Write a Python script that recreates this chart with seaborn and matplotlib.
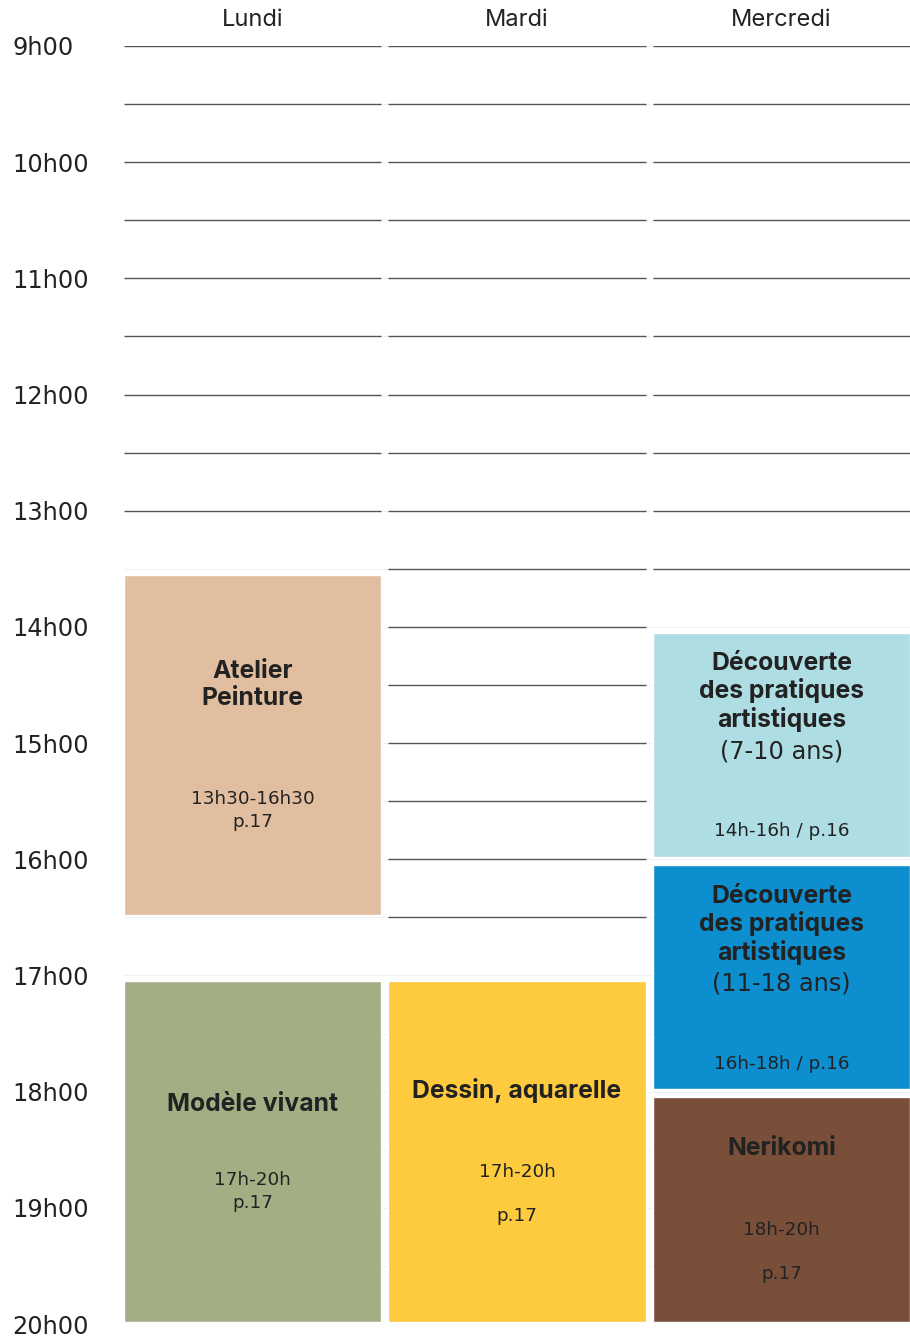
import matplotlib
matplotlib.use("Agg")
import matplotlib.pyplot as plt
import seaborn as sns
import numpy as np

days = ["Lundi", "Mardi", "Mercredi"]
hour_ticks = [9, 10, 11, 12, 13, 14, 15, 16, 17, 18, 19, 20]
hour_labels = ["9h00", "10h00", "11h00", "12h00", "13h00", "14h00",
               "15h00", "16h00", "17h00", "18h00", "19h00", "20h00"]

event_day = [0, 0, 1, 2, 2, 2]
event_start = [13.5, 17, 17, 14, 16, 18]
event_end = [16.5, 20, 20, 16, 18, 20]
event_title = ["Atelier\nPeinture", "Modèle vivant", "Dessin, aquarelle",
               "Découverte\ndes pratiques\nartistiques",
               "Découverte\ndes pratiques\nartistiques", "Nerikomi"]
event_sub = ["", "", "", "(7-10 ans)", "(11-18 ans)", ""]
event_detail = ["13h30-16h30\np.17", "17h-20h\np.17", "17h-20h\n\np.17",
                "14h-16h / p.16", "16h-18h / p.16", "18h-20h\n\np.17"]
event_color = ["#E2BEA0", "#A2AF84", "#FECB3E", "#AEDDE3", "#0C8ECF", "#7A4F39"]

# text placement inside each box (hours after the start)
title_off = [1.00, 1.11, 0.99, 0.56, 0.565, 0.49]
sub_off = [0, 0, 0, 1.07, 1.07, 0]
detail_off = [2.08, 1.86, 1.88, 1.76, 1.76, 1.38]

sns.set_theme(style="white")
plt.rcParams["font.family"] = ["Inter", "DejaVu Sans"]
digits_font = ["DejaVu Sans"]
ink = "#222222"

fig = plt.figure(figsize=(9.1, 13.37), dpi=100)
ax = fig.add_axes([124 / 910, 13 / 1337, 786 / 910, 1278 / 1337])

half = 0.486
ax.set_xlim(-half, 2 + half)
ax.set_ylim(20, 9)

# faint half-hour grid behind everything
for t in np.arange(9, 20.5, 0.5):
    ax.axhline(t, color="#f2f2f2", lw=0.8, zorder=0)

# slot lines only where the column is free (and not right after a box)
for d in range(len(days)):
    for t in np.arange(9, 20, 0.5):
        busy = any(event_day[i] == d and event_start[i] <= t <= event_end[i]
                   for i in range(len(event_day)))
        if not busy:
            ax.hlines(t, d - half, d + half, color="#555555", lw=1.0, zorder=1)

starts = np.array(event_start)
ends = np.array(event_end)
ax.bar(event_day, ends - starts - 0.07, bottom=starts + 0.05, width=2 * half,
       color=event_color, zorder=2)

for i in range(len(event_day)):
    x = event_day[i]
    s = event_start[i]
    ax.text(x, s + title_off[i], event_title[i], ha="center", va="center",
            fontsize=17.8, fontweight="bold", color=ink, linespacing=1.18,
            zorder=3)
    if event_sub[i]:
        ax.text(x, s + sub_off[i], event_sub[i], ha="center", va="center",
                fontsize=17.3, color=ink, family=digits_font, zorder=3)
    ax.text(x, s + detail_off[i], event_detail[i], ha="center", va="center",
            fontsize=13.2, color=ink, linespacing=1.3, family=digits_font,
            zorder=3)

ax.set_yticks(hour_ticks)
ax.set_yticklabels(hour_labels, ha="left", fontsize=17.3, color=ink,
                   family=digits_font)
ax.tick_params(axis="y", length=0, pad=80.6)

ax.xaxis.tick_top()
ax.set_xticks(range(len(days)))
ax.set_xticklabels(days, fontsize=17, color=ink)
ax.tick_params(axis="x", length=0, pad=10.8)

sns.despine(ax=ax, left=True, bottom=True, top=True, right=True)

fig.savefig("out.png", dpi=100)
